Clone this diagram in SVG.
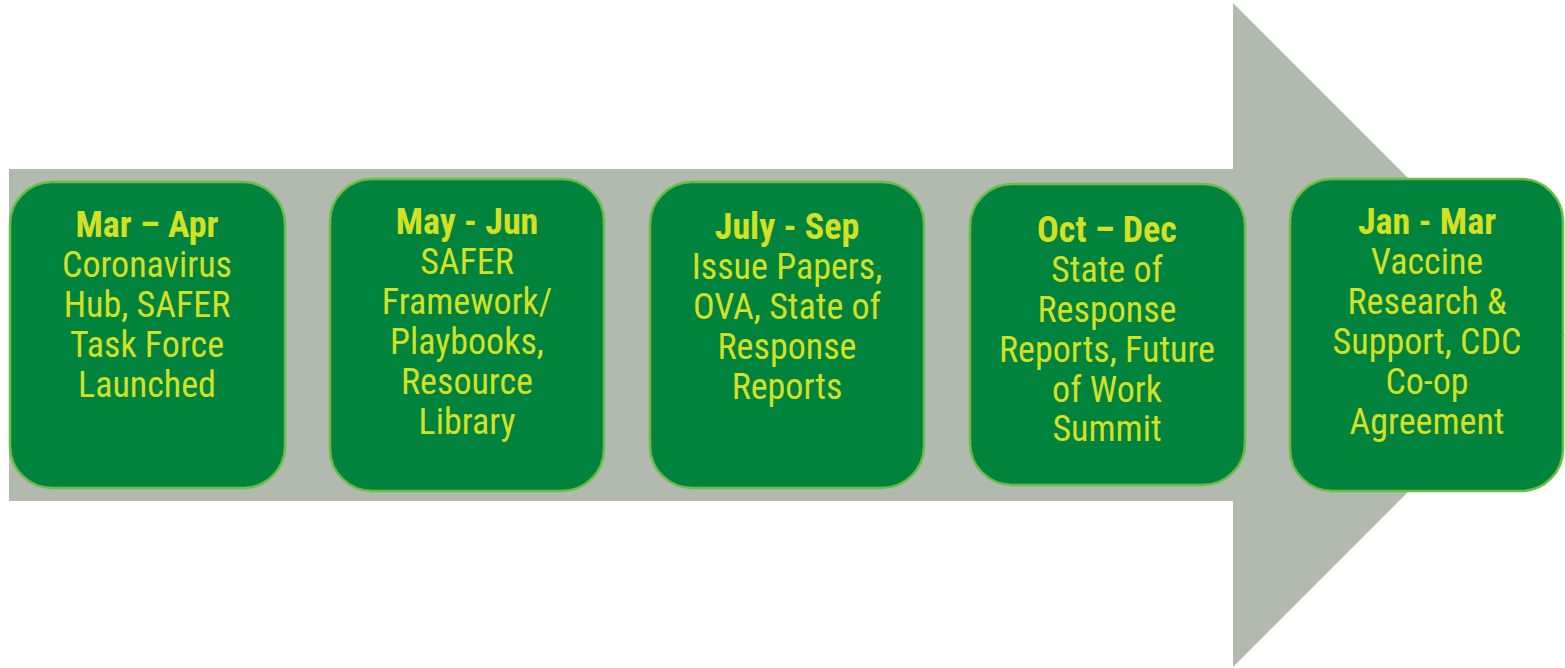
<svg xmlns="http://www.w3.org/2000/svg" width="1565" height="668" viewBox="0 0 1565 668">
  <style>
    .box { fill: #00843d; stroke: #6cbd45; stroke-width: 2.5; }
    .lbl { font-family: "Roboto Condensed", "Roboto", "Liberation Sans", sans-serif; font-size: 36px; fill: #d4e024; text-anchor: middle; }
    .hd { font-weight: bold; }
  </style>
  <rect width="1565" height="668" fill="#ffffff"/>
  <!-- timeline arrow in the background -->
  <g id="connectors">
    <path d="M9 169 H1233 V3 L1565 335 L1233 667 V501 H9 Z" fill="#b2b9ae"/>
  </g>
  <g id="node-mar-apr">
    <rect class="box" x="10" y="182" width="275" height="306" rx="42"/>
    <text class="lbl"><tspan class="hd" x="147" y="237">Mar – Apr</tspan><tspan x="147" y="277">Coronavirus</tspan><tspan x="147" y="317">Hub, SAFER</tspan><tspan x="147" y="357">Task Force</tspan><tspan x="147" y="397">Launched</tspan></text>
  </g>
  <g id="node-may-jun">
    <rect class="box" x="330" y="179" width="274" height="312" rx="42"/>
    <text class="lbl"><tspan class="hd" x="467" y="234">May - Jun</tspan><tspan x="467" y="274">SAFER</tspan><tspan x="467" y="314">Framework/</tspan><tspan x="467" y="354">Playbooks,</tspan><tspan x="467" y="394">Resource</tspan><tspan x="467" y="434">Library</tspan></text>
  </g>
  <g id="node-jul-sep">
    <rect class="box" x="650" y="182" width="274" height="306" rx="42"/>
    <text class="lbl"><tspan class="hd" x="787" y="239">July - Sep</tspan><tspan x="787" y="279">Issue Papers,</tspan><tspan x="787" y="319">OVA, State of</tspan><tspan x="787" y="359">Response</tspan><tspan x="787" y="399">Reports</tspan></text>
  </g>
  <g id="node-oct-dec">
    <rect class="box" x="970" y="184" width="275" height="301" rx="42"/>
    <text class="lbl"><tspan class="hd" x="1107" y="242">Oct – Dec</tspan><tspan x="1107" y="282">State of</tspan><tspan x="1107" y="322">Response</tspan><tspan x="1107" y="362">Reports, Future</tspan><tspan x="1107" y="402">of Work</tspan><tspan x="1107" y="441">Summit</tspan></text>
  </g>
  <g id="node-jan-mar">
    <rect class="box" x="1290" y="179" width="273" height="312" rx="42"/>
    <text class="lbl"><tspan class="hd" x="1427" y="234">Jan - Mar</tspan><tspan x="1427" y="274">Vaccine</tspan><tspan x="1427" y="314">Research &amp;</tspan><tspan x="1427" y="354">Support, CDC</tspan><tspan x="1427" y="394">Co-op</tspan><tspan x="1427" y="434">Agreement</tspan></text>
  </g>
</svg>
